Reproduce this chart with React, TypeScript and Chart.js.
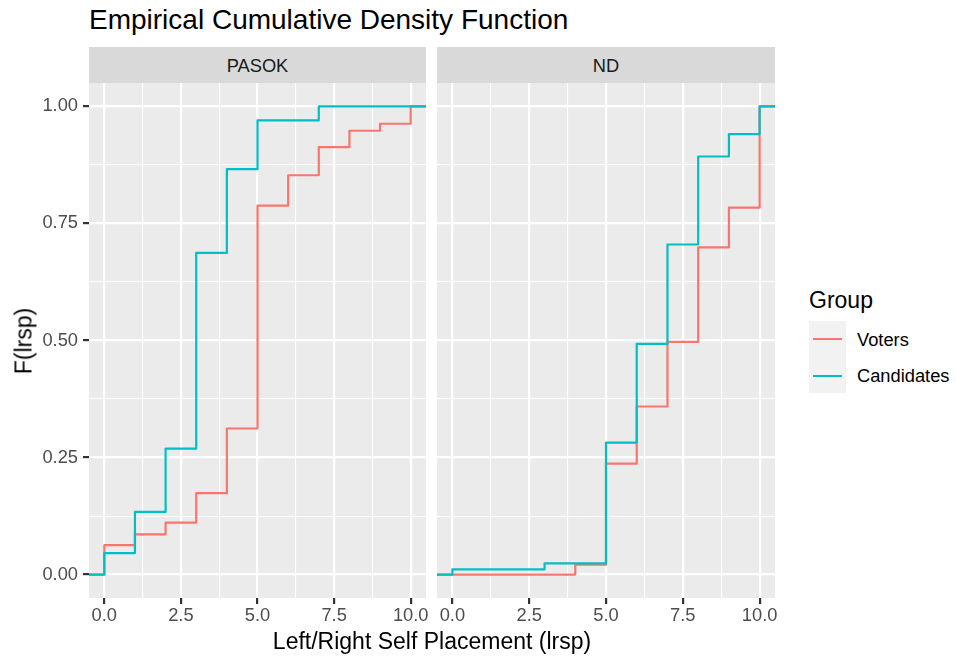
import React, { useEffect, useRef } from 'react';
import { Chart, registerables } from 'chart.js';

Chart.register(...registerables);

// ---- data ----
const panels = ['PASOK', 'ND'];
const groups = ['Voters', 'Candidates'];
const groupColors = ['#F8766D', '#00BFC4'];
const xValues = [0, 1, 2, 3, 4, 5, 6, 7, 8, 9, 10];
const pasokVoters = [0.063, 0.086, 0.111, 0.174, 0.312, 0.788, 0.853, 0.913, 0.948, 0.963, 1.0];
const pasokCandidates = [0.046, 0.134, 0.269, 0.687, 0.866, 0.97, 0.97, 1.0, 1.0, 1.0, 1.0];
const ndVoters = [0, 0, 0, 0, 0.021, 0.237, 0.359, 0.497, 0.699, 0.784, 1.0];
const ndCandidates = [0.011, 0.011, 0.011, 0.024, 0.024, 0.282, 0.493, 0.705, 0.893, 0.941, 1.0];
const xMajorTicks = [0, 2.5, 5, 7.5, 10];
const xTickLabels = ['0.0', '2.5', '5.0', '7.5', '10.0'];
const xMinorTicks = [1.25, 3.75, 6.25, 8.75];
const yMajorTicks = [0, 0.25, 0.5, 0.75, 1];
const yTickLabels = ['0.00', '0.25', '0.50', '0.75', '1.00'];
const yMinorTicks = [0.125, 0.375, 0.625, 0.875];
const X_MIN = -0.5;
const X_MAX = 10.5;
const Y_MIN = -0.05;
const Y_MAX = 1.05;

const FONT = "'Liberation Sans', Arial, Helvetica, sans-serif";

const panelSeries = [
  [pasokVoters, pasokCandidates],
  [ndVoters, ndCandidates],
];

function ecdfPoints(vals: number[]) {
  const pts = [{ x: X_MIN, y: 0 }];
  xValues.forEach((x, i) => pts.push({ x, y: vals[i] }));
  pts.push({ x: X_MAX, y: 1 });
  return pts;
}

const bgPlugin = {
  id: 'panelBg',
  beforeDraw(chart: any) {
    const { ctx, chartArea } = chart;
    ctx.save();
    ctx.fillStyle = '#EBEBEB';
    ctx.fillRect(chartArea.left, chartArea.top, chartArea.right - chartArea.left, chartArea.bottom - chartArea.top);
    ctx.restore();
  },
};

const PANEL_TOP = 83;
const PANEL_H = 515;
const X_AXIS_H = 40;
const PAD_RIGHT = 12;

function Panel({ index, left, width, showY }: { index: number; left: number; width: number; showY: boolean }) {
  const ref = useRef<HTMLCanvasElement>(null);
  const yAxisW = showY ? 89 : 0;
  const canvasW = yAxisW + width + PAD_RIGHT;
  const canvasH = PANEL_H + X_AXIS_H;
  useEffect(() => {
    const series = panelSeries[index];
    const isMajorX = (v: number) => xMajorTicks.includes(v);
    const isMajorY = (v: number) => yMajorTicks.some((m) => Math.abs(m - v) < 1e-9);
    const chart = new Chart(ref.current!, {
      type: 'line',
      data: {
        datasets: groups.map((g, gi) => ({
          label: g,
          data: ecdfPoints(series[gi]),
          borderColor: groupColors[gi],
          backgroundColor: groupColors[gi],
          borderWidth: 2.2,
          stepped: 'before' as const,
          pointRadius: 0,
          fill: false,
          order: gi === 0 ? 2 : 1,
          borderCapStyle: 'butt' as const,
          borderJoinStyle: 'round' as const,
        })),
      },
      options: {
        animation: false,
        responsive: false,
        maintainAspectRatio: false,
        events: [],
        layout: { padding: { left: 0, right: PAD_RIGHT, top: 0, bottom: 0 } },
        plugins: { legend: { display: false }, tooltip: { enabled: false }, title: { display: false } },
        scales: {
          x: {
            type: 'linear',
            min: X_MIN,
            max: X_MAX,
            afterBuildTicks: (s: any) => {
              s.ticks = [...xMajorTicks, ...xMinorTicks].sort((a, b) => a - b).map((v) => ({ value: v }));
            },
            afterFit: (s: any) => {
              s.height = X_AXIS_H;
              s.paddingLeft = 0;
              s.paddingRight = 0;
            },
            ticks: {
              autoSkip: false,
              maxRotation: 0,
              minRotation: 0,
              padding: 1,
              color: '#4D4D4D',
              font: { family: FONT, size: 18.3 },
              callback: (v: any) => {
                const i = xMajorTicks.indexOf(Number(v));
                return i >= 0 ? xTickLabels[i] : '';
              },
            },
            grid: {
              color: '#FFFFFF',
              lineWidth: (c: any) => (c.tick && isMajorX(c.tick.value) ? 2.2 : 1.1),
              tickColor: (c: any) => (c.tick && isMajorX(c.tick.value) ? '#333333' : 'rgba(0,0,0,0)'),
              tickWidth: 2.2,
              tickLength: 6,
              drawTicks: true,
            },
            border: { display: false },
          },
          y: {
            type: 'linear',
            min: Y_MIN,
            max: Y_MAX,
            afterBuildTicks: (s: any) => {
              s.ticks = [...yMajorTicks, ...yMinorTicks].sort((a, b) => a - b).map((v) => ({ value: v }));
            },
            afterFit: (s: any) => {
              s.width = yAxisW;
              s.paddingTop = 0;
              s.paddingBottom = 0;
            },
            ticks: {
              display: showY,
              padding: 5,
              color: '#4D4D4D',
              font: { family: FONT, size: 18.3 },
              callback: (v: any) => {
                const i = yMajorTicks.findIndex((m) => Math.abs(m - Number(v)) < 1e-9);
                return i >= 0 ? yTickLabels[i] : '';
              },
            },
            grid: {
              color: '#FFFFFF',
              lineWidth: (c: any) => (c.tick && isMajorY(c.tick.value) ? 2.2 : 1.1),
              tickColor: (c: any) => (c.tick && isMajorY(c.tick.value) ? '#333333' : 'rgba(0,0,0,0)'),
              tickWidth: 2.2,
              tickLength: 6,
              drawTicks: showY,
            },
            border: { display: false },
          },
        },
      },
      plugins: [bgPlugin],
    } as any);
    return () => chart.destroy();
  }, [index, showY]);
  return (
    <canvas
      ref={ref}
      width={canvasW}
      height={canvasH}
      style={{ position: 'absolute', left: left - yAxisW, top: PANEL_TOP, width: canvasW, height: canvasH }}
    />
  );
}

const textBase: React.CSSProperties = {
  position: 'absolute',
  fontFamily: FONT,
  lineHeight: 1,
  whiteSpace: 'nowrap',
  margin: 0,
};

export default function App() {
  const panelLefts = [89, 437];
  const panelWidths = [337, 338];
  return (
    <div style={{ position: 'absolute', left: 0, top: 0, width: 956, height: 660, background: '#FFFFFF', overflow: 'hidden' }}>
      <div style={{ ...textBase, left: 89, top: 6.3, fontSize: 28, color: '#000000' }}>Empirical Cumulative Density Function</div>
      {panels.map((p, i) => (
        <div key={p} style={{ position: 'absolute', left: panelLefts[i], top: 47, width: panelWidths[i], height: 36, background: '#D9D9D9' }}>
          <div style={{ ...textBase, left: 0, top: 10.2, width: panelWidths[i], textAlign: 'center', fontSize: 18.3, color: '#1A1A1A' }}>{p}</div>
        </div>
      ))}
      {panels.map((p, i) => (
        <Panel key={p} index={i} left={panelLefts[i]} width={panelWidths[i]} showY={i === 0} />
      ))}
      <div style={{ ...textBase, left: 432, top: 629.5, fontSize: 23, color: '#000000', transform: 'translateX(-50%)' }}>
        Left/Right Self Placement (lrsp)
      </div>
      <div
        style={{
          ...textBase,
          left: 24.3,
          top: 341,
          fontSize: 23,
          color: '#000000',
          transform: 'translate(-50%, -50%) rotate(-90deg)',
        }}
      >
        F(lrsp)
      </div>
      <div style={{ ...textBase, left: 809, top: 288.5, fontSize: 23, color: '#000000' }}>Group</div>
      <div style={{ position: 'absolute', left: 809, top: 321, width: 37, height: 72, background: '#F2F2F2' }} />
      {groups.map((g, gi) => (
        <React.Fragment key={g}>
          <div
            style={{
              position: 'absolute',
              left: 813,
              top: (gi === 0 ? 339.3 : 376) - 1.1,
              width: 29,
              height: 2.2,
              background: groupColors[gi],
            }}
          />
          <div style={{ ...textBase, left: 857, top: gi === 0 ? 330.5 : 367.2, fontSize: 18.3, color: '#000000' }}>{g}</div>
        </React.Fragment>
      ))}
    </div>
  );
}
